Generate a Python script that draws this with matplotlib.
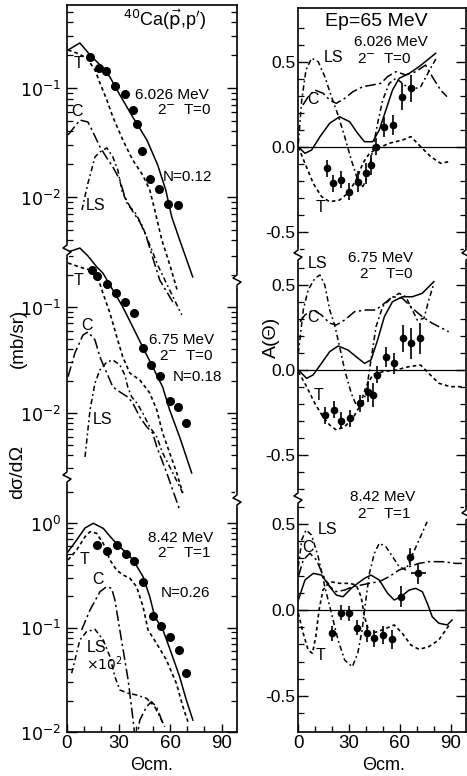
import matplotlib
matplotlib.use('Agg')
import matplotlib.pyplot as plt
from matplotlib.lines import Line2D
from matplotlib.ticker import NullFormatter

plt.rcParams['font.family'] = ['Liberation Sans', 'DejaVu Sans']
plt.rcParams['mathtext.fontset'] = 'dejavusans'

W, H = 467, 776

# ---------------- cross sections (mb/sr) ----------------
# 6.026 MeV 2- T=0
cs1_tot_x = [0.6, 7.5, 13.4, 19.2, 25.0, 30.8, 38.3, 46.5, 52.8, 57.5, 61.0, 65.6, 73.2]
cs1_tot_y = [0.223, 0.259, 0.201, 0.163, 0.126, 0.0863, 0.0542, 0.0334, 0.0197, 0.0116, 0.00656, 0.00404, 0.00185]
cs1_t_x = [0.6, 5.8, 11.6, 16.3, 19.2, 23.2, 26.7, 32.5, 38.3, 44.1, 48.2, 51.1, 55.2, 59.9, 64.5]
cs1_t_y = [0.223, 0.209, 0.188, 0.146, 0.111, 0.0776, 0.0542, 0.0334, 0.0218, 0.0159, 0.0116, 0.0076, 0.00404, 0.00238, 0.00134]
cs1_c_x = [0.6, 7.5, 12.2, 15.1, 19.2, 23.2, 26.7, 30.8, 33.7, 37.7, 42.4, 45.9, 49.4, 54.0, 62.7]
cs1_c_y = [0.0371, 0.0508, 0.0488, 0.0395, 0.0288, 0.0228, 0.0189, 0.0143, 0.0100, 0.0076, 0.0059, 0.00448, 0.00294, 0.00173, 0.00102]
cs1_ls_x = [8.7, 12.2, 16.3, 19.2, 23.2, 26.7, 29.6, 31.9, 35.4, 39.5, 43.6, 48.2, 52.8, 59.8, 66.8]
cs1_ls_y = [0.0076, 0.0134, 0.0233, 0.0259, 0.0282, 0.0233, 0.0177, 0.0116, 0.00845, 0.00728, 0.00553, 0.00363, 0.00238, 0.0014, 0.00083]
cs1_dat_x = [13.4, 18.8, 23.0, 27.9, 33.7, 38.5, 40.5, 43.9, 48.2, 53.6, 58.8, 64.6]
cs1_dat_y = [0.194, 0.154, 0.144, 0.104, 0.088, 0.0628, 0.0468, 0.0264, 0.0146, 0.0118, 0.00863, 0.00845]

# 6.75 MeV 2- T=0
cs2_tot_x = [0.6, 7.5, 12.2, 17.4, 20.9, 26.7, 32.5, 38.3, 44.1, 49.9, 55.7, 59.8, 65.6, 72.6]
cs2_tot_y = [0.330, 0.360, 0.303, 0.238, 0.209, 0.1445, 0.100, 0.0648, 0.0419, 0.0272, 0.0176, 0.01066, 0.00594, 0.00272]
cs2_t_x = [0.6, 7.5, 13.4, 18.0, 20.9, 25.0, 29.0, 32.5, 36.6, 42.4, 48.2, 52.3, 55.7, 59.8, 63.9, 67.4]
cs2_t_y = [0.260, 0.238, 0.223, 0.188, 0.1356, 0.0877, 0.0521, 0.0337, 0.0238, 0.0205, 0.01545, 0.01066, 0.00647, 0.0042, 0.00272, 0.00176]
cs2_c_x = [0.6, 4.6, 9.3, 12.2, 16.3, 19.2, 23.2, 26.7, 30.8, 35.4, 38.3, 42.4, 46.5, 49.9, 52.3, 58.1, 65.6]
cs2_c_y = [0.0220, 0.0368, 0.0544, 0.0581, 0.0489, 0.0337, 0.0238, 0.0176, 0.0158, 0.01416, 0.0124, 0.00916, 0.00738, 0.00647, 0.00478, 0.00272, 0.00122]
cs2_ls_x = [10.5, 13.4, 16.3, 19.2, 23.2, 26.7, 30.8, 33.7, 35.4, 37.7, 40.7, 44.1, 48.2, 52.3, 55.7, 61.6, 67.4]
cs2_ls_y = [0.00385, 0.01066, 0.0192, 0.0255, 0.0303, 0.0316, 0.0284, 0.0228, 0.0176, 0.01416, 0.0124, 0.0100, 0.00738, 0.00594, 0.0042, 0.00272, 0.00176]
cs2_dat_x = [14.3, 17.6, 23.4, 28.5, 33.7, 38.9, 44.3, 49.2, 54.0, 60.2, 64.6, 69.5]
cs2_dat_y = [0.223, 0.196, 0.164, 0.135, 0.111, 0.0872, 0.0408, 0.0284, 0.0223, 0.0131, 0.0115, 0.0081]

# 8.42 MeV 2- T=1
cs3_tot_x = [0.6, 5.6, 10.5, 15.3, 21.1, 26.9, 32.7, 38.5, 44.3, 48.2, 51.1, 55.9, 60.8, 65.6, 69.5, 73.3]
cs3_tot_y = [0.531, 0.687, 0.896, 0.993, 0.889, 0.687, 0.552, 0.443, 0.306, 0.197, 0.127, 0.0946, 0.0566, 0.0338, 0.0202, 0.0130]
cs3_t_x = [0.6, 5.6, 10.5, 13.4, 17.2, 21.1, 25.0, 28.8, 32.7, 36.6, 40.5, 44.3, 47.2, 52.1, 57.9, 63.7, 67.5, 70.4]
cs3_t_y = [0.443, 0.552, 0.739, 0.826, 0.797, 0.639, 0.443, 0.355, 0.318, 0.296, 0.246, 0.158, 0.0946, 0.0706, 0.0489, 0.0292, 0.01746, 0.01255]
cs3_c_x = [8.5, 13.4, 19.2, 23.1, 26.0, 27.9, 29.8, 32.7, 35.6, 38.5, 40.1, 42.4, 46.3, 49.2, 52.1, 55.9]
cs3_c_y = [0.0946, 0.147, 0.220, 0.246, 0.237, 0.183, 0.118, 0.061, 0.0315, 0.0130, 0.0075, 0.0130, 0.01746, 0.0195, 0.01746, 0.0121]
cs3_ls_x = [2.7, 7.5, 11.4, 16.3, 21.1, 25.0, 27.9, 30.8, 35.6, 40.5, 46.3, 51.1, 54.0, 56.9]
cs3_ls_y = [0.0365, 0.0759, 0.0912, 0.0961, 0.0759, 0.0526, 0.0338, 0.0252, 0.0235, 0.0226, 0.0210, 0.01746, 0.0140, 0.01124]
cs3_dat_x = [17.2, 23.4, 28.9, 34.3, 39.1, 44.3, 49.8, 54.6, 59.8, 65.0, 69.5]
cs3_dat_y = [0.616, 0.543, 0.616, 0.501, 0.436, 0.274, 0.129, 0.1033, 0.0816, 0.061, 0.0369]

# ---------------- analyzing powers ----------------
ay1_tot_x = [0.2, 4.1, 8.0, 12.9, 18.7, 24.5, 30.4, 35.2, 39.2, 44.0, 47.9, 51.8, 55.7, 59.6, 65.5, 71.3, 81.1]
ay1_tot_y = [0.0, -0.037, -0.018, 0.06, 0.14, 0.178, 0.149, 0.08, 0.031, 0.031, 0.10, 0.218, 0.335, 0.404, 0.433, 0.472, 0.551]
ay1_t_x = [0.2, 4.1, 9.0, 13.9, 18.7, 24.5, 29.4, 34.3, 38.2, 42.1, 47.0, 53.8, 61.6, 66.5, 72.3, 78.2, 84.1, 88.8]
ay1_t_y = [0.0, -0.096, -0.214, -0.292, -0.322, -0.312, -0.272, -0.194, -0.096, -0.037, -0.008, 0.022, 0.041, 0.061, 0.002, -0.057, -0.096, -0.086]
ay1_c_x = [2.9, 6.0, 9.9, 14.8, 18.7, 22.6, 27.5, 32.3, 38.2, 44.0, 48.9, 52.8, 57.7, 63.5, 69.4, 75.2, 79.1, 84.0, 87.8]
ay1_c_y = [0.247, 0.296, 0.335, 0.316, 0.276, 0.257, 0.286, 0.325, 0.355, 0.365, 0.375, 0.414, 0.443, 0.424, 0.443, 0.482, 0.414, 0.335, 0.296]
ay1_ls_x = [0.2, 2.2, 4.7, 8.0, 11.9, 15.8, 19.7, 23.6, 27.5, 31.4, 35.2, 38.2, 41.1, 44.0, 46.9, 49.9, 53.8, 57.7, 61.5, 66.5, 72.3, 78.1, 82.0]
ay1_ls_y = [0.02, 0.276, 0.453, 0.522, 0.502, 0.414, 0.296, 0.188, 0.061, -0.076, -0.194, -0.233, -0.175, -0.018, 0.139, 0.276, 0.375, 0.404, 0.375, 0.335, 0.355, 0.463, 0.531]
ay1_dat_x = [17.3, 20.6, 25.1, 30.2, 35.2, 40.1, 43.0, 45.9, 50.8, 55.7, 61.5, 66.5]
ay1_dat_y = [-0.125, -0.214, -0.194, -0.263, -0.204, -0.155, -0.106, 0.0, 0.119, 0.129, 0.296, 0.345]
ay1_dat_e = [0.05, 0.05, 0.05, 0.05, 0.06, 0.06, 0.06, 0.05, 0.06, 0.06, 0.08, 0.08]

ay2_tot_x = [0.2, 5.1, 8.9, 13.8, 18.7, 23.6, 29.4, 34.3, 39.2, 43.0, 46.9, 50.9, 55.7, 61.5, 67.4, 73.2, 77.1, 80.1]
ay2_tot_y = [0.0, -0.049, -0.029, 0.039, 0.108, 0.141, 0.118, 0.078, 0.039, 0.059, 0.176, 0.314, 0.402, 0.431, 0.431, 0.451, 0.49, 0.52]
ay2_t_x = [0.2, 5.1, 9.9, 14.7, 18.7, 22.6, 27.5, 32.3, 36.2, 40.1, 44.0, 49.9, 57.7, 65.5, 72.3, 77.1, 83.0, 89.8, 96.6]
ay2_t_y = [-0.01, -0.098, -0.196, -0.275, -0.324, -0.353, -0.333, -0.284, -0.216, -0.098, -0.029, -0.01, 0.0, 0.02, 0.029, -0.02, -0.078, -0.098, -0.098]
ay2_c_x = [1.2, 4.1, 8.9, 13.8, 18.7, 22.6, 27.5, 33.3, 40.1, 45.9, 50.9, 55.7, 61.5, 67.4, 73.2, 79.1, 85.0, 88.8]
ay2_c_y = [0.284, 0.324, 0.353, 0.324, 0.275, 0.265, 0.294, 0.343, 0.353, 0.353, 0.392, 0.431, 0.422, 0.363, 0.314, 0.275, 0.245, 0.225]
ay2_ls_x = [0.2, 3.1, 6.0, 9.9, 12.9, 15.8, 18.7, 21.6, 24.5, 27.5, 31.4, 34.3, 37.2, 40.1, 43.0, 46.0, 49.9, 54.7, 59.6, 63.5, 67.4, 70.3, 74.2, 77.1, 80.1]
ay2_ls_y = [0.098, 0.353, 0.471, 0.539, 0.559, 0.5, 0.353, 0.265, 0.137, 0.0, -0.137, -0.206, -0.216, -0.137, 0.059, 0.255, 0.373, 0.422, 0.451, 0.431, 0.353, 0.294, 0.304, 0.412, 0.51]
ay2_dat_x = [15.8, 21.0, 25.5, 30.8, 36.6, 41.0, 44.4, 46.4, 51.8, 56.7, 62.0, 66.8, 71.7]
ay2_dat_y = [-0.265, -0.235, -0.298, -0.284, -0.196, -0.127, -0.147, -0.029, 0.075, 0.039, 0.186, 0.157, 0.186]
ay2_dat_e = [0.05, 0.05, 0.05, 0.05, 0.05, 0.06, 0.07, 0.05, 0.06, 0.06, 0.08, 0.09, 0.09]

ay3_tot_x = [0.2, 4.1, 9.0, 13.9, 18.7, 22.6, 26.5, 31.4, 35.2, 39.2, 43.0, 47.9, 52.8, 56.7, 60.6, 65.5, 69.4, 73.3, 76.2, 79.1, 83.0, 87.9, 90.8]
ay3_tot_y = [0.058, 0.174, 0.213, 0.203, 0.135, 0.087, 0.077, 0.126, 0.155, 0.184, 0.203, 0.174, 0.097, 0.058, 0.077, 0.116, 0.126, 0.106, 0.039, -0.039, -0.077, -0.087, -0.058]
ay3_t_x = [0.2, 3.1, 6.0, 8.5, 10.5, 12.4, 14.7, 18.7, 24.5, 30.4, 34.3, 37.2, 39.2, 42.1, 47.0, 51.8, 56.7, 61.5, 66.5, 71.3, 77.1, 83.0, 89.8]
ay3_t_y = [-0.019, -0.136, -0.233, -0.252, -0.155, 0.0, 0.116, 0.165, 0.155, 0.155, 0.145, 0.077, -0.039, -0.136, -0.126, -0.107, -0.087, -0.136, -0.203, -0.229, -0.213, -0.174, -0.077]
ay3_c_x = [0.2, 3.1, 7.0, 10.9, 14.7, 18.7, 22.6, 27.5, 32.3, 37.2, 42.1, 47.9, 53.8, 59.6, 65.5, 71.3, 77.1, 85.0, 92.8, 96.6]
ay3_c_y = [0.194, 0.291, 0.33, 0.291, 0.203, 0.136, 0.107, 0.116, 0.136, 0.145, 0.155, 0.165, 0.194, 0.233, 0.252, 0.271, 0.281, 0.281, 0.271, 0.271]
ay3_ls_x = [0.2, 2.2, 4.7, 8.0, 11.9, 15.8, 19.7, 23.6, 27.5, 32.0, 35.2, 37.8, 39.7, 42.1, 45.0, 47.9, 51.8, 55.7, 59.6, 63.5, 66.5, 71.3, 76.1]
ay3_ls_y = [0.252, 0.407, 0.465, 0.436, 0.31, 0.135, -0.019, -0.174, -0.291, -0.33, -0.252, -0.116, 0.039, 0.213, 0.33, 0.388, 0.368, 0.31, 0.252, 0.233, 0.30, 0.407, 0.513]
ay3_dat_x = [20.1, 25.1, 29.8, 34.7, 40.5, 44.9, 50.2, 55.1, 60.6, 66.0, 70.9]
ay3_dat_y = [-0.136, -0.016, -0.019, -0.103, -0.136, -0.165, -0.145, -0.171, 0.077, 0.31, 0.213]
ay3_dat_e = [0.045, 0.045, 0.045, 0.045, 0.05, 0.05, 0.05, 0.055, 0.06, 0.05, 0.06]
ay3_dat_xe = [0, 0, 0, 0, 0, 0, 0, 0, 0, 0, 4.5]

LS_T = (0, (2.2, 1.8))
LS_C = (0, (7, 2.2, 1.5, 2.2))
LS_LS = (0, (3.5, 2, 1.2, 2))


def box(x0, y0, x1, y1):
    return [x0 / W, 1 - y1 / H, (x1 - x0) / W, (y1 - y0) / H]


def txt(x, y, s, size=10, **kw):
    fig.text(x / W, 1 - y / H, s, fontsize=size, ha='center', va='center', **kw)


def zigzag(x, y):
    xs = [x, x, x - 4, x + 4, x, x]
    ys = [y - 8, y - 5, y - 2, y + 2, y + 5, y + 8]
    fig.add_artist(Line2D([x / W] * 2, [1 - (y - 6) / H, 1 - (y + 6) / H],
                          transform=fig.transFigure, color='white', lw=3))
    fig.add_artist(Line2D([v / W for v in xs], [1 - v / H for v in ys],
                          transform=fig.transFigure, color='k', lw=1.1))


fig = plt.figure(figsize=(W / 100, H / 100), dpi=100)

left_box = box(67, 5, 237, 732)
right_box = box(298, 8, 466, 732)
left_top, left_bot = 5, 732
right_top, right_bot = 8, 732


def make_axes(rect, first, ypad):
    ax = fig.add_axes(rect)
    ax.set_facecolor('none')
    ax.set_xlim(0, 99)
    if first:
        for s in ax.spines.values():
            s.set_linewidth(1.2)
        ax.set_xticks([0, 30, 60, 90])
        ax.set_xticks(range(10, 100, 10), minor=True)
        ax.tick_params(axis='x', which='both', direction='in', labelsize=13.5, pad=2.5)
        ax.tick_params(axis='x', which='major', length=6, width=1)
        ax.tick_params(axis='x', which='minor', length=4, width=1)
    else:
        for s in ax.spines.values():
            s.set_visible(False)
        ax.tick_params(axis='x', which='both', bottom=False, labelbottom=False)
    ax.tick_params(axis='y', which='both', direction='in', left=True, right=True, labelsize=12.5, pad=ypad)
    ax.tick_params(axis='y', which='major', length=7, width=1)
    ax.tick_params(axis='y', which='minor', length=4, width=0.9)
    return ax


def curves(ax, tot, t, c, ls):
    ax.plot(tot[0], tot[1], color='k', lw=1.1)
    ax.plot(t[0], t[1], color='k', lw=1.2, linestyle=LS_T)
    ax.plot(c[0], c[1], color='k', lw=1.1, linestyle=LS_C)
    ax.plot(ls[0], ls[1], color='k', lw=1.1, linestyle=LS_LS)


# ---- left column: log panels ----
# (reference value, its pixel row, pixels per decade, band top, band bottom, labelled decades)
left_panels = [
    (0.1, 88, 109, 5, 250, [-1, -2]),
    (0.1, 307, 106, 250, 477, [-1, -2]),
    (1.0, 523, 104.5, 477, 732, [0, -1, -2]),
]
left_sets = [
    ((cs1_tot_x, cs1_tot_y), (cs1_t_x, cs1_t_y), (cs1_c_x, cs1_c_y), (cs1_ls_x, cs1_ls_y), (cs1_dat_x, cs1_dat_y)),
    ((cs2_tot_x, cs2_tot_y), (cs2_t_x, cs2_t_y), (cs2_c_x, cs2_c_y), (cs2_ls_x, cs2_ls_y), (cs2_dat_x, cs2_dat_y)),
    ((cs3_tot_x, cs3_tot_y), (cs3_t_x, cs3_t_y), (cs3_c_x, cs3_c_y), (cs3_ls_x, cs3_ls_y), (cs3_dat_x, cs3_dat_y)),
]
for i, (p, d) in enumerate(zip(left_panels, left_sets)):
    ref, ref_px, dec, b_top, b_bot, decs = p
    ax = make_axes(left_box, i == 2, 4)
    ax.set_yscale('log')
    lo = ref * 10 ** (-(left_bot - ref_px) / dec)
    hi = ref * 10 ** ((ref_px - left_top) / dec)
    ax.set_ylim(lo, hi)
    band_hi = ref * 10 ** ((ref_px - b_top - 3) / dec)
    band_lo = ref * 10 ** (-(b_bot - 3 - ref_px) / dec)
    majors = [10.0 ** e for e in decs]
    ax.set_yticks(majors, labels=[r'$10^{%d}$' % e for e in decs])
    minors = [k * 10.0 ** e for e in range(-4, 1) for k in range(2, 10)
              if band_lo <= k * 10.0 ** e <= band_hi]
    ax.set_yticks(minors, minor=True)
    ax.yaxis.set_minor_formatter(NullFormatter())
    curves(ax, d[0], d[1], d[2], d[3])
    ax.plot(d[4][0], d[4][1], 'o', color='k', ms=5.5)

# ---- right column: analyzing power panels ----
right_panels = [(147, 170, 8, 255), (370, 170, 255, 498), (610, 172, 498, 732)]
right_sets = [
    ((ay1_tot_x, ay1_tot_y), (ay1_t_x, ay1_t_y), (ay1_c_x, ay1_c_y), (ay1_ls_x, ay1_ls_y),
     (ay1_dat_x, ay1_dat_y, ay1_dat_e, None)),
    ((ay2_tot_x, ay2_tot_y), (ay2_t_x, ay2_t_y), (ay2_c_x, ay2_c_y), (ay2_ls_x, ay2_ls_y),
     (ay2_dat_x, ay2_dat_y, ay2_dat_e, None)),
    ((ay3_tot_x, ay3_tot_y), (ay3_t_x, ay3_t_y), (ay3_c_x, ay3_c_y), (ay3_ls_x, ay3_ls_y),
     (ay3_dat_x, ay3_dat_y, ay3_dat_e, ay3_dat_xe)),
]
for i, (p, d) in enumerate(zip(right_panels, right_sets)):
    zero_px, unit, b_top, b_bot = p
    ax = make_axes(right_box, i == 2, 2)
    ax.set_ylim((zero_px - right_bot) / unit, (zero_px - right_top) / unit)
    ax.set_yticks([-0.5, 0.0, 0.5], labels=['-0.5', '0.0', '0.5'])
    band_hi = (zero_px - b_top - 4) / unit
    band_lo = (zero_px - b_bot + 4) / unit
    minors = [k / 10 for k in range(-9, 10) if k % 5 != 0 and band_lo <= k / 10 <= band_hi]
    ax.set_yticks(minors, minor=True)
    ax.axhline(0, color='k', lw=0.9)
    curves(ax, d[0], d[1], d[2], d[3])
    dx, dy, de, dxe = d[4]
    ax.errorbar(dx, dy, yerr=de, xerr=dxe, fmt='o', color='k', ms=4.5, elinewidth=1.2, capsize=0)

# break marks on the frames
for yy in (250, 477):
    zigzag(67, yy)
for yy in (280, 500):
    zigzag(237, yy)
for yy in (255, 498):
    zigzag(298, yy)
for yy in (255, 515):
    zigzag(466, yy)

# ---- texts, left column ----
txt(165, 20, r"$^{40}$Ca($\vec{\mathrm{p}}$,p$'$)", size=13)
txt(78, 64, 'T', 11.5)
txt(77, 112, 'C', 11.5)
txt(96, 206, 'LS', 11.5)
txt(172, 95, '6.026 MeV', 11)
txt(184, 111, r'2$^{-}$  T=0', 11)
txt(188, 177, 'N=0.12', 11)

txt(79, 280, 'T', 11.5)
txt(87, 325, 'C', 11.5)
txt(103, 420, 'LS', 11.5)
txt(182, 340, '6.75 MeV', 11)
txt(186, 357, r'2$^{-}$  T=0', 11)
txt(197, 377, 'N=0.18', 11)

txt(85, 560, 'T', 11.5)
txt(98, 580, 'C', 11.5)
txt(97, 648, 'LS', 11.5)
txt(104, 664, r'$\times10^{2}$', 10)
txt(181, 538, '8.42 MeV', 11)
txt(184, 554, r'2$^{-}$  T=1', 11)
txt(185, 593, 'N=0.26', 11)

txt(18, 338, '(mb/sr)', 13.5, rotation=90)
txt(18, 472, 'dσ/dΩ', 14, rotation=90)
txt(152, 765, 'Θcm.', 13)

# ---- texts, right column ----
txt(376, 22, 'Ep=65 MeV', 14)
txt(391, 42, '6.026 MeV', 11)
txt(384, 60, r'2$^{-}$  T=0', 11)
txt(334, 57, 'LS', 11.5)
txt(313, 99, 'C', 11.5)
txt(321, 207, 'T', 11.5)

txt(318, 263, 'LS', 11.5)
txt(381, 258, '6.75 MeV', 11)
txt(386, 275, r'2$^{-}$  T=0', 11)
txt(313, 318, 'C', 11.5)
txt(319, 395, 'T', 11.5)

txt(383, 497, '8.42 MeV', 11)
txt(384, 515, r'2$^{-}$  T=1', 11)
txt(328, 529, 'LS', 11.5)
txt(308, 548, 'C', 11.5)
txt(320, 655, 'T', 11.5)

txt(271, 337, 'A(Θ)', 14, rotation=90)
txt(384, 765, 'Θcm.', 13)

fig.savefig('out.png', dpi=100)
